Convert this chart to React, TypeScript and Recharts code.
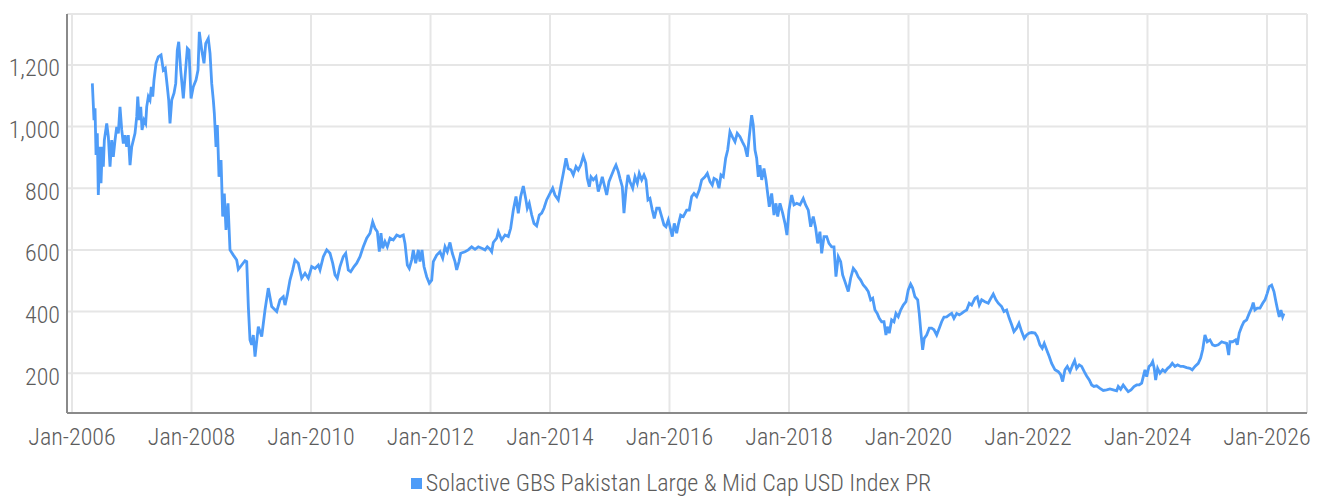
import { CartesianGrid, Legend, Line, LineChart, XAxis, YAxis } from "recharts";

// decimal years and index level, USD
const dates = [
  2006.34, 2006.368, 2006.385, 2006.402, 2006.423, 2006.44, 2006.469, 2006.485, 2006.507, 2006.524,
  2006.541, 2006.581, 2006.608, 2006.636, 2006.664, 2006.691, 2006.72, 2006.748, 2006.775, 2006.803,
  2006.832, 2006.859, 2006.887, 2006.915, 2006.942, 2006.971, 2006.999, 2007.054, 2007.083, 2007.1,
  2007.126, 2007.15, 2007.172, 2007.205, 2007.233, 2007.25, 2007.277, 2007.305, 2007.327, 2007.351,
  2007.372, 2007.406, 2007.444, 2007.49, 2007.528, 2007.561, 2007.595, 2007.618, 2007.64, 2007.669,
  2007.707, 2007.736, 2007.762, 2007.786, 2007.819, 2007.863, 2007.896, 2007.93, 2007.958, 2007.992,
  2008.03, 2008.075, 2008.109, 2008.131, 2008.171, 2008.209, 2008.238, 2008.281, 2008.31, 2008.338,
  2008.365, 2008.382, 2008.41, 2008.432, 2008.46, 2008.494, 2008.522, 2008.549, 2008.577, 2008.611,
  2008.644, 2008.7, 2008.756, 2008.783, 2008.84, 2008.895, 2008.924, 2008.951, 2008.979, 2009.007,
  2009.034, 2009.063, 2009.118, 2009.175, 2009.23, 2009.285, 2009.342, 2009.426, 2009.481, 2009.536,
  2009.565, 2009.603, 2009.648, 2009.694, 2009.732, 2009.787, 2009.844, 2009.9, 2009.955, 2010.012,
  2010.067, 2010.122, 2010.151, 2010.206, 2010.263, 2010.318, 2010.363, 2010.402, 2010.44, 2010.485,
  2010.54, 2010.581, 2010.624, 2010.664, 2010.72, 2010.765, 2010.82, 2010.875, 2010.932, 2010.987,
  2011.032, 2011.071, 2011.11, 2011.143, 2011.171, 2011.2, 2011.238, 2011.277, 2011.322, 2011.377,
  2011.434, 2011.489, 2011.545, 2011.573, 2011.612, 2011.645, 2011.685, 2011.712, 2011.752, 2011.796,
  2011.824, 2011.858, 2011.891, 2011.936, 2011.98, 2012.02, 2012.047, 2012.104, 2012.159, 2012.204,
  2012.243, 2012.281, 2012.326, 2012.365, 2012.41, 2012.438, 2012.477, 2012.505, 2012.577, 2012.632,
  2012.689, 2012.745, 2012.8, 2012.857, 2012.912, 2012.951, 2012.996, 2013.024, 2013.051, 2013.108,
  2013.135, 2013.191, 2013.247, 2013.302, 2013.342, 2013.386, 2013.431, 2013.469, 2013.509, 2013.553,
  2013.593, 2013.62, 2013.653, 2013.694, 2013.732, 2013.777, 2013.821, 2013.861, 2013.899, 2013.944,
  2014.0, 2014.045, 2014.083, 2014.139, 2014.184, 2014.222, 2014.268, 2014.306, 2014.351, 2014.39,
  2014.435, 2014.473, 2014.514, 2014.557, 2014.597, 2014.624, 2014.658, 2014.686, 2014.725, 2014.77,
  2014.808, 2014.848, 2014.875, 2014.909, 2014.949, 2014.987, 2015.032, 2015.076, 2015.104, 2015.143,
  2015.171, 2015.21, 2015.238, 2015.272, 2015.305, 2015.339, 2015.384, 2015.422, 2015.461, 2015.494,
  2015.535, 2015.573, 2015.606, 2015.64, 2015.673, 2015.712, 2015.745, 2015.786, 2015.829, 2015.869,
  2015.908, 2015.941, 2015.98, 2016.008, 2016.047, 2016.08, 2016.12, 2016.147, 2016.187, 2016.231,
  2016.288, 2016.331, 2016.371, 2016.41, 2016.455, 2016.498, 2016.539, 2016.594, 2016.633, 2016.678,
  2016.716, 2016.745, 2016.79, 2016.828, 2016.862, 2016.9, 2016.94, 2016.974, 2017.012, 2017.051,
  2017.096, 2017.134, 2017.18, 2017.218, 2017.263, 2017.302, 2017.335, 2017.375, 2017.402, 2017.431,
  2017.459, 2017.486, 2017.514, 2017.543, 2017.581, 2017.615, 2017.643, 2017.67, 2017.71, 2017.749,
  2017.782, 2017.811, 2017.849, 2017.894, 2017.933, 2017.966, 2018.0, 2018.045, 2018.084, 2018.129,
  2018.184, 2018.239, 2018.279, 2018.323, 2018.363, 2018.406, 2018.447, 2018.48, 2018.518, 2018.547,
  2018.586, 2018.631, 2018.669, 2018.714, 2018.753, 2018.786, 2018.825, 2018.865, 2018.898, 2018.937,
  2018.992, 2019.032, 2019.076, 2019.121, 2019.159, 2019.2, 2019.243, 2019.289, 2019.327, 2019.367,
  2019.401, 2019.439, 2019.477, 2019.511, 2019.551, 2019.59, 2019.623, 2019.645, 2019.678, 2019.718,
  2019.757, 2019.79, 2019.829, 2019.869, 2019.913, 2019.958, 2019.996, 2020.036, 2020.07, 2020.108,
  2020.154, 2020.18, 2020.209, 2020.237, 2020.264, 2020.304, 2020.348, 2020.388, 2020.427, 2020.472,
  2020.515, 2020.555, 2020.594, 2020.639, 2020.683, 2020.723, 2020.761, 2020.807, 2020.85, 2020.89,
  2020.928, 2020.974, 2021.017, 2021.057, 2021.113, 2021.151, 2021.185, 2021.225, 2021.28, 2021.335,
  2021.364, 2021.419, 2021.464, 2021.503, 2021.559, 2021.598, 2021.643, 2021.687, 2021.727, 2021.765,
  2021.81, 2021.849, 2021.894, 2021.938, 2021.978, 2022.021, 2022.062, 2022.117, 2022.155, 2022.2,
  2022.239, 2022.272, 2022.312, 2022.356, 2022.396, 2022.452, 2022.507, 2022.547, 2022.58, 2022.619,
  2022.658, 2022.703, 2022.748, 2022.781, 2022.815, 2022.858, 2022.898, 2022.942, 2022.982, 2023.026,
  2023.066, 2023.104, 2023.149, 2023.205, 2023.26, 2023.317, 2023.372, 2023.427, 2023.484, 2023.511,
  2023.551, 2023.594, 2023.635, 2023.678, 2023.724, 2023.774, 2023.819, 2023.862, 2023.903, 2023.93,
  2023.958, 2023.987, 2024.025, 2024.058, 2024.087, 2024.113, 2024.137, 2024.17, 2024.209, 2024.254,
  2024.293, 2024.338, 2024.377, 2024.415, 2024.46, 2024.505, 2024.555, 2024.599, 2024.656, 2024.711,
  2024.749, 2024.795, 2024.85, 2024.89, 2024.924, 2024.962, 2025.001, 2025.046, 2025.091, 2025.13,
  2025.185, 2025.242, 2025.286, 2025.325, 2025.359, 2025.381, 2025.426, 2025.476, 2025.503, 2025.536,
  2025.576, 2025.615, 2025.66, 2025.703, 2025.743, 2025.77, 2025.798, 2025.837, 2025.883, 2025.928,
  2025.967, 2026.004, 2026.038, 2026.078, 2026.117, 2026.15, 2026.184, 2026.206, 2026.234, 2026.262,
  2026.284,
];

const values = [
  1140, 1021, 1059, 908, 978, 778, 934, 816, 934, 870,
  956, 1010, 967, 870, 956, 902, 956, 999, 978, 1064,
  989, 945, 972, 934, 972, 875, 934, 978, 1032, 1097,
  1021, 1064, 989, 1021, 1010, 1064, 1097, 1086, 1129, 1097,
  1151, 1205, 1226, 1232, 1183, 1189, 1129, 1086, 1010, 1086,
  1108, 1140, 1248, 1275, 1183, 1091, 1172, 1254, 1248, 1091,
  1129, 1151, 1183, 1307, 1248, 1205, 1270, 1286, 1237, 1140,
  1086, 1043, 934, 1005, 837, 891, 708, 783, 665, 751,
  600, 583, 567, 537, 551, 565, 562, 416, 308, 292,
  324, 254, 351, 319, 405, 476, 416, 400, 438, 448,
  421, 454, 502, 535, 567, 557, 508, 524, 508, 546,
  540, 551, 535, 578, 600, 589, 557, 519, 508, 546,
  578, 589, 535, 529, 546, 557, 578, 610, 638, 654,
  691, 670, 659, 594, 654, 605, 627, 610, 638, 632,
  648, 643, 648, 621, 551, 540, 567, 600, 557, 600,
  562, 600, 546, 513, 492, 502, 562, 583, 594, 573,
  610, 594, 624, 589, 562, 535, 562, 589, 594, 600,
  610, 602, 610, 605, 600, 610, 602, 594, 624, 638,
  659, 632, 648, 643, 670, 729, 773, 719, 773, 807,
  767, 735, 751, 713, 686, 678, 713, 719, 735, 762,
  783, 800, 778, 762, 810, 848, 897, 864, 859, 843,
  870, 859, 875, 904, 881, 832, 805, 837, 827, 837,
  789, 816, 837, 810, 778, 821, 843, 864, 875, 854,
  832, 805, 719, 794, 843, 821, 800, 837, 816, 848,
  827, 843, 827, 762, 767, 729, 702, 735, 735, 708,
  681, 675, 697, 675, 643, 686, 654, 681, 713, 708,
  729, 729, 773, 783, 773, 794, 827, 837, 848, 821,
  810, 832, 827, 800, 843, 837, 897, 924, 983, 967,
  951, 978, 967, 951, 934, 902, 967, 1037, 1005, 924,
  897, 837, 875, 827, 864, 827, 783, 740, 783, 713,
  751, 708, 751, 719, 686, 648, 729, 778, 746, 751,
  746, 767, 746, 729, 675, 708, 670, 621, 659, 589,
  643, 643, 621, 610, 610, 513, 578, 562, 519, 497,
  465, 508, 540, 529, 513, 502, 486, 476, 465, 438,
  443, 405, 394, 378, 367, 367, 324, 351, 330, 373,
  367, 394, 383, 405, 421, 432, 470, 489, 476, 448,
  438, 394, 330, 276, 313, 324, 346, 346, 341, 324,
  346, 367, 382, 383, 389, 394, 378, 394, 389, 394,
  400, 405, 427, 421, 443, 448, 421, 438, 432, 427,
  438, 457, 438, 427, 416, 400, 405, 378, 357, 335,
  346, 362, 335, 313, 324, 330, 332, 330, 319, 292,
  281, 297, 276, 254, 232, 211, 205, 195, 173, 211,
  222, 205, 227, 241, 216, 227, 222, 205, 191, 178,
  162, 157, 159, 151, 144, 146, 149, 146, 143, 157,
  148, 162, 151, 140, 146, 157, 162, 162, 168, 189,
  211, 189, 222, 227, 238, 216, 178, 216, 200, 211,
  205, 216, 222, 232, 222, 227, 222, 222, 218, 216,
  211, 222, 232, 249, 276, 324, 302, 308, 292, 289,
  292, 302, 299, 297, 259, 302, 302, 308, 292, 330,
  351, 367, 373, 394, 411, 429, 405, 411, 411, 427,
  438, 459, 481, 486, 465, 432, 400, 383, 405, 383,
  394,
];

const yearTicks = [2006, 2008, 2010, 2012, 2014, 2016, 2018, 2020, 2022, 2024, 2026];
const valueTicks = [200, 400, 600, 800, 1000, 1200];

const seriesName = "Solactive GBS Pakistan Large & Mid Cap USD Index PR";
const lineColor = "#4e9cf8";
const textColor = "#5c5c5c";
const font = "Roboto, sans-serif";

const chartData = dates.map((t, i) => ({ t, value: values[i] }));

function LegendBox() {
  return (
    <div
      style={{
        height: 43,
        paddingTop: 17,
        boxSizing: "border-box",
        display: "flex",
        justifyContent: "center",
        alignItems: "center",
        fontFamily: font,
        fontStretch: "condensed",
        fontWeight: 300,
        fontSize: 24,
        color: textColor,
        paddingLeft: 27,
      }}
    >
      <span style={{ width: 11, height: 11, background: lineColor, marginRight: 4, display: "inline-block" }} />
      <span style={{ lineHeight: "26px" }}>{seriesName}</span>
    </div>
  );
}

const tickStyle = { fill: textColor, fontSize: 24, fontWeight: 300 };

export default function App() {
  return (
    <LineChart
      width={1308}
      height={488}
      data={chartData}
      margin={{ top: 6, right: 9, left: 0, bottom: 0 }}
      style={{ fontFamily: font, fontStretch: "condensed" }}
    >
      <CartesianGrid stroke="#e6e6e6" strokeWidth={2} />
      <XAxis
        dataKey="t"
        type="number"
        domain={[2005.916, 2026.67]}
        ticks={yearTicks}
        tickFormatter={(v) => `Jan-${v}`}
        height={40}
        tickSize={0}
        tickMargin={15}
        tickLine={false}
        axisLine={{ stroke: "#8a8a8a", strokeWidth: 2 }}
        tick={tickStyle}
        allowDataOverflow
      />
      <YAxis
        type="number"
        domain={[71, 1365]}
        ticks={valueTicks}
        tickFormatter={(v) => v.toLocaleString("en-US")}
        width={59}
        tickSize={0}
        tickMargin={7}
        tickLine={false}
        axisLine={{ stroke: "#8a8a8a", strokeWidth: 2 }}
        tick={{ ...tickStyle, dy: 3 }}
        allowDataOverflow
      />
      <Legend verticalAlign="bottom" content={() => <LegendBox />} wrapperStyle={{ height: 43 }} />
      <Line
        type="linear"
        dataKey="value"
        name={seriesName}
        stroke={lineColor}
        strokeWidth={2.8}
        dot={false}
        activeDot={false}
        isAnimationActive={false}
      />
    </LineChart>
  );
}
